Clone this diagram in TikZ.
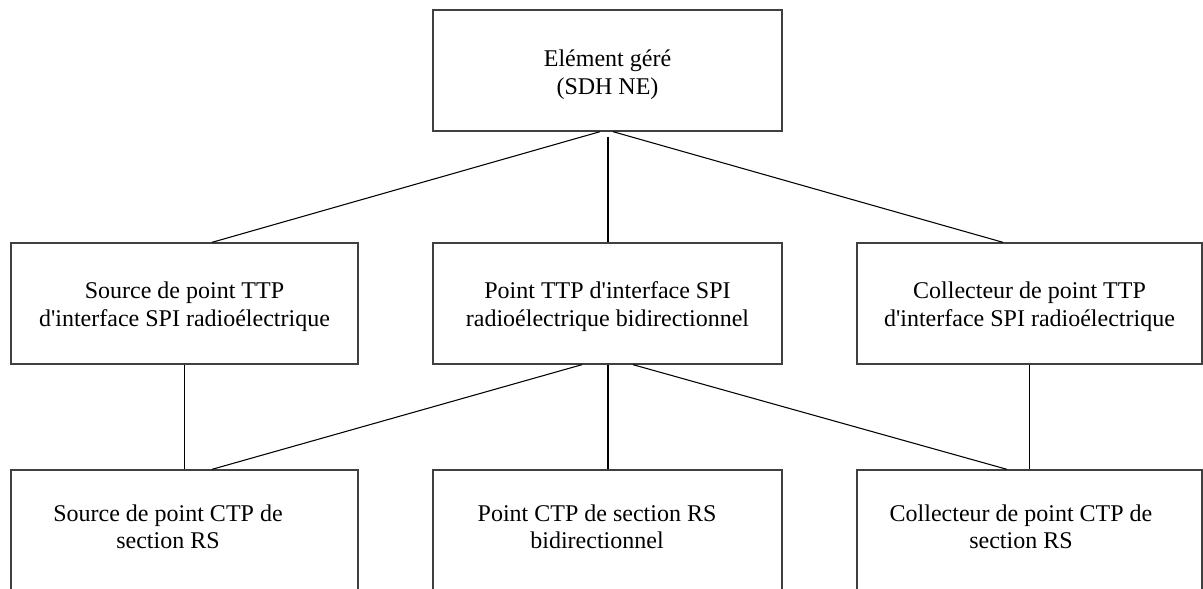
\documentclass[tikz,border=0pt]{standalone}
\usepackage{fontspec}
\setmainfont{Liberation Serif}
\newcommand{\ap}{\textquotesingle}
\begin{document}
\begin{tikzpicture}[x=0.75pt,y=-0.75pt,
  box/.style={draw=black!75,line width=1pt,rectangle,inner sep=0pt,
    minimum height=90.75pt},
  openbox/.style={draw=black!75,line width=1pt,rectangle,inner sep=0pt,
    minimum height=105pt},
  lbl/.style={inner sep=0pt,align=center,font=\fontsize{18pt}{21pt}\selectfont},
  lblb/.style={inner sep=0pt,align=center,font=\fontsize{18pt}{20pt}\selectfont},
  link/.style={draw=black,line width=0.8pt},
  trunk/.style={draw=black,line width=1.5pt}]
\useasboundingbox (0,0) rectangle (1203,589);
\clip (0,0) rectangle (1203,589);
% boxes
\node[box,minimum width=261.75pt] (top) at (607.5,70.5) {};
\node[box,minimum width=260.25pt] (ml) at (184.5,303.5) {};
\node[box,minimum width=261.75pt] (mc) at (607.5,303.5) {};
\node[box,minimum width=258.75pt] (mr) at (1029.5,303.5) {};
\node[openbox,minimum width=260.25pt] (bl) at (184.5,540) {};
\node[openbox,minimum width=261.75pt] (bc) at (607.5,540) {};
\node[openbox,minimum width=258.75pt] (br) at (1029.5,540) {};
% texts
\node[lbl] (ttop) at (607.5,75) {Elément géré\\(SDH NE)};
\node[lbl] (tml) at (184.5,307) {Source de point TTP\\d\ap interface SPI radioélectrique};
\node[lbl] (tmc) at (607.5,307) {Point TTP d\ap interface SPI\\radioélectrique bidirectionnel};
\node[lbl] (tmr) at (1029.5,307) {Collecteur de point TTP\\d\ap interface SPI radioélectrique};
\node[lblb] (tbl) at (168,527) {Source de point CTP de\\section RS};
\node[lblb] (tbc) at (597,527) {Point CTP de section RS\\bidirectionnel};
\node[lblb] (tbr) at (1021,527) {Collecteur de point CTP de\\section RS};
% connectors
\draw[link] ([shift={(-7.5,0)}]top.south) -- ([shift={(27.5,0)}]ml.north);
\draw[trunk] ([shift={(0,5)}]top.south) -- (mc.north);
\draw[link] ([shift={(5.5,0)}]top.south) -- ([shift={(-26.5,0)}]mr.north);
\draw[link] (ml.south) -- (bl.north);
\draw[link] (mr.south) -- (br.north);
\draw[link] ([shift={(-25.5,0)}]mc.south) -- ([shift={(27.5,0)}]bl.north);
\draw[trunk] (mc.south) -- (bc.north);
\draw[link] ([shift={(25.5,0)}]mc.south) -- ([shift={(-22.5,0)}]br.north);
\end{tikzpicture}
\end{document}
